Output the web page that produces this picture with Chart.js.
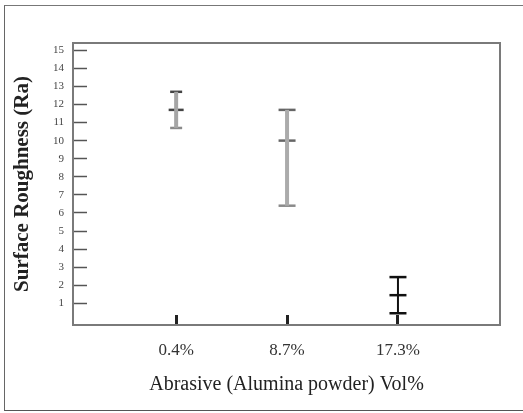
<!DOCTYPE html>
<html>
<head>
<meta charset="utf-8">
<script src="https://cdn.jsdelivr.net/npm/chart.js@4"></script>
<style>
    body { margin: 0; background: #fff; overflow: hidden; }
    #wrap { position: relative; width: 523px; height: 413px; }
    #frame { position: absolute; left: 4px; top: 5px; width: 519px; height: 404px;
             border-left: 1px solid #666; border-top: 1px solid #777; border-bottom: 1px solid #555;
             pointer-events: none; }
</style>
</head>
<body>
<div id="wrap">
    <canvas id="raChart" width="523" height="413"></canvas>
    <div id="frame"></div>
</div>
<script>
const categories = ["0.4%", "8.7%", "17.3%"];
const xPos = [1, 2, 3];
const meanRa = [11.7, 10.0, 1.45];
const upperRa = [12.7, 11.7, 2.45];
const lowerRa = [10.7, 6.4, 0.45];
const yTicks = [1, 2, 3, 4, 5, 6, 7, 8, 9, 10, 11, 12, 13, 14, 15];

const stemColors = ["#a5a5a5", "#ababab", "#111111"];
const capColors = ["#444444", "#666666", "#111111"];
const capRadius = [6, 8.5, 8.5];

// one vertical stem per abrasive fraction
const stemSets = xPos.map((x, i) => ({
    type: "line",
    data: [{ x: x, y: lowerRa[i] }, { x: x, y: upperRa[i] }],
    borderColor: stemColors[i],
    borderWidth: i === 2 ? 2 : 4,
    pointRadius: 0
}));

// caps at upper, mean, lower
const capPoints = [];
const capBorder = [];
const capSize = [];
xPos.forEach((x, i) => {
    [upperRa[i], meanRa[i], lowerRa[i]].forEach((v, k) => {
        capPoints.push({ x: x, y: v });
        capBorder.push(k === 2 && i < 2 ? "#8a8a8a" : capColors[i]);
        capSize.push(k === 1 && i === 0 ? 7.5 : capRadius[i]);
    });
});

const plotFrame = {
    id: "plotFrame",
    afterDraw(chart) {
        const a = chart.chartArea;
        const ctx = chart.ctx;
        ctx.save();
        ctx.strokeStyle = "#7a7a7a";
        ctx.lineWidth = 2;
        ctx.strokeRect(a.left, a.top, a.right - a.left, a.bottom - a.top);
        ctx.restore();
    }
};

new Chart(document.getElementById("raChart"), {
    type: "scatter",
    data: {
        datasets: [
            ...stemSets,
            {
                type: "scatter",
                data: capPoints,
                pointStyle: "line",
                pointRadius: capSize,
                pointBorderColor: capBorder,
                pointBorderWidth: 2.5,
                pointHoverRadius: capSize
            }
        ]
    },
    options: {
        responsive: false,
        animation: false,
        layout: { padding: { top: 43, right: 23, left: 0, bottom: 0 } },
        plugins: { legend: { display: false }, tooltip: { enabled: false } },
        scales: {
            x: {
                type: "linear",
                min: 0.07,
                max: 3.92,
                afterBuildTicks: axis => { axis.ticks = xPos.map(v => ({ value: v })); },
                afterFit: scale => { scale.height = 88; },
                grid: { drawOnChartArea: false, tickLength: -10, tickWidth: 3, tickColor: "#222" },
                border: { display: false },
                ticks: {
                    padding: 25,
                    color: "#333",
                    font: { family: "Liberation Serif", size: 17 },
                    callback: v => categories[xPos.indexOf(v)] ?? ""
                },
                title: {
                    display: true,
                    text: "Abrasive (Alumina powder) Vol%",
                    color: "#222",
                    font: { family: "Liberation Serif", size: 20 },
                    padding: { top: 0, bottom: 16 }
                }
            },
            y: {
                min: -0.2,
                max: 15.4,
                afterBuildTicks: axis => { axis.ticks = yTicks.map(v => ({ value: v })); },
                afterFit: scale => { scale.width = 73; },
                grid: { drawOnChartArea: false, tickLength: -14, tickWidth: 1.5, tickColor: "#555" },
                border: { display: false },
                ticks: {
                    padding: 23,
                    color: "#444",
                    font: { family: "Liberation Serif", size: 11 }
                },
                title: {
                    display: true,
                    text: "Surface Roughness (Ra)",
                    color: "#222",
                    font: { family: "Liberation Serif", size: 21, weight: "bold" },
                    padding: { top: 10, bottom: 0 }
                }
            }
        }
    },
    plugins: [plotFrame]
});
</script>
</body>
</html>
